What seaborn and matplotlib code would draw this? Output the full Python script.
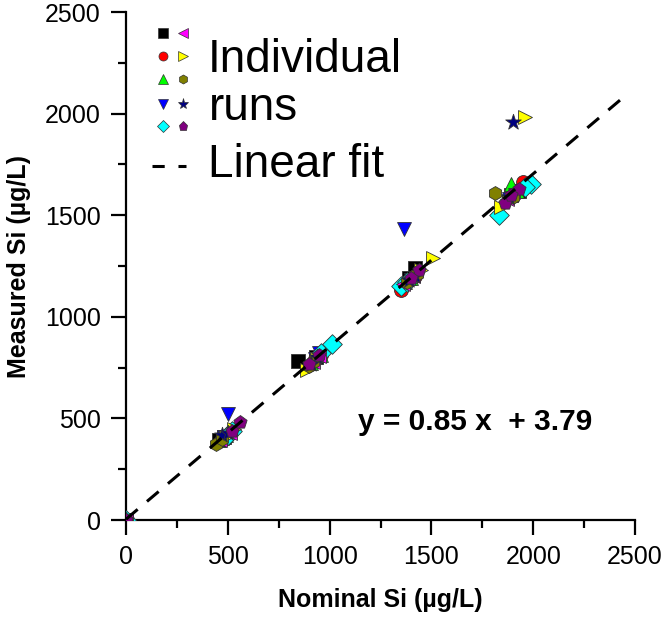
import numpy as np
import pandas as pd
import matplotlib
matplotlib.use("Agg")
import matplotlib.pyplot as plt
from matplotlib.ticker import MultipleLocator
import seaborn as sns

# Data: nominal vs measured Si for each individual run
run_markers = ["s", "o", "^", "v", "D", "<", ">", "h", "*", "p"]
run_colors = ["#000000", "#ff0000", "#00ff00", "#0000ff", "#00ffff",
              "#ff00ff", "#ffff00", "#808000", "#000080", "#800080"]

nominal = [
    [0, 480, 455, 845, 935, 1420, 1390, 1890, 1930],
    [0, 470, 500, 930, 960, 1350, 1420, 1950, 1880],
    [0, 490, 470, 960, 910, 1400, 1370, 1890, 1920],
    [0, 500, 480, 950, 930, 1365, 1400, 1880, 1910],
    [0, 520, 500, 1010, 960, 1350, 1380, 1990, 1830, 1960],
    [0, 460, 510, 920, 950, 1360, 1410, 1900, 1870],
    [0, 530, 490, 890, 940, 1510, 1450, 1960, 1840, 1880],
    [0, 440, 470, 900, 920, 1380, 1430, 1810, 1900],
    [0, 470, 500, 940, 910, 1390, 1420, 1900, 1880],
    [0, 560, 520, 900, 950, 1440, 1400, 1860, 1930, 1890],
]
measured = [
    [0, 410, 395, 782, 800, 1240, 1190, 1600, 1620],
    [0, 400, 420, 790, 810, 1130, 1200, 1665, 1590],
    [0, 420, 405, 810, 775, 1190, 1170, 1655, 1620],
    [0, 520, 410, 820, 790, 1430, 1180, 1580, 1600],
    [0, 440, 420, 865, 820, 1150, 1170, 1655, 1500, 1640],
    [0, 395, 430, 780, 805, 1160, 1200, 1615, 1580],
    [0, 450, 410, 740, 790, 1290, 1230, 1985, 1540, 1570],
    [0, 375, 400, 760, 780, 1170, 1210, 1610, 1590],
    [0, 420, 430, 800, 770, 1180, 1200, 1960, 1590],
    [0, 480, 440, 770, 810, 1230, 1190, 1560, 1630, 1600],
]

fit_slope = 0.85
fit_intercept = 3.79
fit_xmax = 2470

rows = []
for i in range(len(nominal)):
    for x, y in zip(nominal[i], measured[i]):
        rows.append({"run": i, "nominal": x, "measured": y})
df = pd.DataFrame(rows)

sns.set_style("ticks")
plt.rcParams["font.family"] = ["Liberation Sans", "DejaVu Sans"]
plt.rcParams["text.color"] = "black"
plt.rcParams["axes.labelcolor"] = "black"
plt.rcParams["axes.edgecolor"] = "black"
plt.rcParams["xtick.color"] = "black"
plt.rcParams["ytick.color"] = "black"

fig = plt.figure(figsize=(6.65, 6.19), dpi=100)
ax = fig.add_axes([126 / 665, 99 / 619, 509 / 665, 508 / 619])

for i in range(len(nominal)):
    sub = df[df["run"] == i]
    sns.scatterplot(data=sub, x="nominal", y="measured", ax=ax,
                    marker=run_markers[i], color=run_colors[i],
                    s=100 if run_markers[i] != "*" else 140,
                    edgecolor="#333333", linewidth=0.6, legend=False, zorder=3)

# linear fit line
fx = np.array([0, fit_xmax])
ax.plot(fx, fit_slope * fx + fit_intercept, color="black", lw=2.2,
        dashes=(5, 4), zorder=4)

ax.set_xlim(0, 2500)
ax.set_ylim(0, 2500)
ax.xaxis.set_major_locator(MultipleLocator(500))
ax.yaxis.set_major_locator(MultipleLocator(500))
ax.xaxis.set_minor_locator(MultipleLocator(250))
ax.yaxis.set_minor_locator(MultipleLocator(250))
ax.tick_params(which="major", length=11, width=1.6, direction="out",
               labelsize=18, pad=7)
ax.tick_params(which="minor", length=5.5, width=1.6, direction="out")
sns.despine(ax=ax)
for s in ["left", "bottom"]:
    ax.spines[s].set_linewidth(1.6)

ax.set_xlabel("Nominal Si (\u00b5g/L)", fontsize=18, fontweight="bold", labelpad=14)
ax.set_ylabel("Measured Si (\u00b5g/L)", fontsize=18, fontweight="bold", labelpad=10)

# custom legend
leg_rows_y = [0.959, 0.913, 0.868, 0.819, 0.776]
for k in range(5):
    for c, cx in enumerate([0.073, 0.112]):
        j = k + 5 * c
        ax.plot([cx], [leg_rows_y[k]], marker=run_markers[j], color=run_colors[j],
                markersize=8 if run_markers[j] == "*" else 6.5,
                markeredgecolor="#333333", markeredgewidth=0.5,
                transform=ax.transAxes, clip_on=False, ls="none")
ax.text(0.161, 0.882, "Individual", transform=ax.transAxes, fontsize=33, va="baseline")
ax.text(0.163, 0.787, "runs", transform=ax.transAxes, fontsize=33, va="baseline")
ax.plot([0.052, 0.118], [0.697, 0.697], color="black", lw=2.2, dashes=(4, 4.5),
        transform=ax.transAxes)
ax.text(0.161, 0.675, "Linear fit", transform=ax.transAxes, fontsize=33, va="baseline")

ax.text(0.456, 0.177, "y = 0.85 x  + 3.79", transform=ax.transAxes,
        fontsize=21.5, fontweight="bold", va="baseline")

fig.savefig("out.png", dpi=100)
